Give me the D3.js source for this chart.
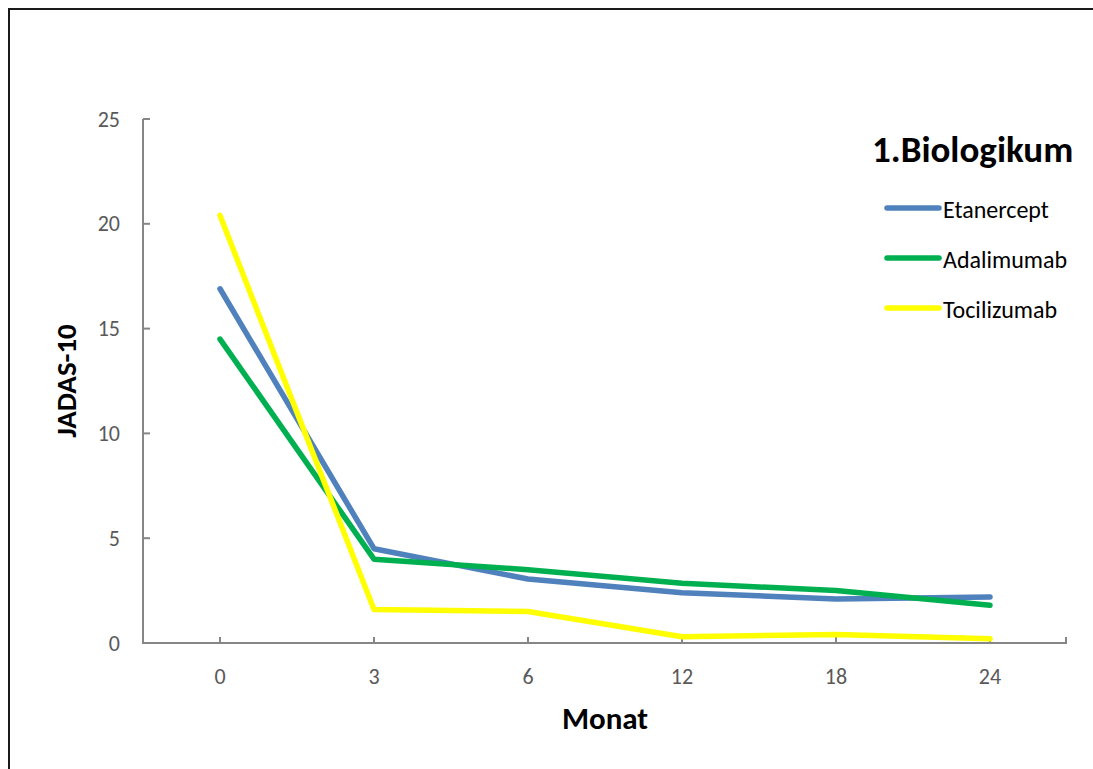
<!DOCTYPE html>
<html>
<head>
<meta charset="utf-8">
<script src="https://cdn.jsdelivr.net/npm/d3@7"></script>
<style>
  html, body { margin: 0; padding: 0; background: #fff; }
  svg { display: block; font-family: Carlito, Lato, "Open Sans", sans-serif; }
</style>
</head>
<body>
<svg id="chart" width="1093" height="769"></svg>
<script>
// JADAS-10 over months, by first biologic
const months = ["0", "3", "6", "12", "18", "24"];
const etanercept = [16.9, 4.5, 3.05, 2.4, 2.1, 2.2];
const adalimumab = [14.5, 4.0, 3.5, 2.85, 2.5, 1.8];
const tocilizumab = [20.4, 1.6, 1.5, 0.3, 0.4, 0.2];
const yTicks = [0, 5, 10, 15, 20, 25];
const seriesNames = ["Etanercept", "Adalimumab", "Tocilizumab"];
const seriesColors = ["#4F81BD", "#00B050", "#FFFF00"];
const seriesValues = [etanercept, adalimumab, tocilizumab];

const svg = d3.select("#chart");

// outer frame
svg.append("rect")
  .attr("x", 9).attr("y", 9)
  .attr("width", 1100).attr("height", 800)
  .attr("fill", "#fff")
  .attr("stroke", "#1a1a1a").attr("stroke-width", 2);

const x = d3.scaleBand().domain(months).range([143, 1067]).padding(0);
const xc = m => x(m) + x.bandwidth() / 2;
const y = d3.scaleLinear().domain([0, 25]).range([643, 119]);

const axisColor = "#868686";
const g = svg.append("g");

// y axis line + inward ticks
g.append("line")
  .attr("x1", 143).attr("x2", 143)
  .attr("y1", y(25)).attr("y2", y(0))
  .attr("stroke", axisColor).attr("stroke-width", 2);
g.selectAll(".ytick").data(yTicks).join("line")
  .attr("x1", 143).attr("x2", 150)
  .attr("y1", d => y(d)).attr("y2", d => y(d))
  .attr("stroke", axisColor).attr("stroke-width", 2);
g.selectAll(".ylab").data(yTicks).join("text")
  .attr("x", 120).attr("y", d => y(d))
  .attr("text-anchor", "end").attr("dominant-baseline", "central")
  .attr("font-size", 22).attr("fill", "#595959")
  .text(d => d);

// x axis line + ticks
g.append("line")
  .attr("x1", 142).attr("x2", 1067)
  .attr("y1", y(0)).attr("y2", y(0))
  .attr("stroke", axisColor).attr("stroke-width", 2);
const xTickPos = months.map(xc).concat([x.range()[1] - 1]);
g.selectAll(".xtick").data(xTickPos).join("line")
  .attr("x1", d => d).attr("x2", d => d)
  .attr("y1", y(0)).attr("y2", y(0) - 6)
  .attr("stroke", axisColor).attr("stroke-width", 2);
g.selectAll(".xlab").data(months).join("text")
  .attr("x", xc).attr("y", 676)
  .attr("text-anchor", "middle").attr("dominant-baseline", "central")
  .attr("font-size", 22).attr("fill", "#595959")
  .text(d => d);

// axis titles
svg.append("text")
  .attr("x", 605).attr("y", 718)
  .attr("text-anchor", "middle").attr("dominant-baseline", "central")
  .attr("font-size", 31).attr("font-weight", "bold").attr("fill", "#000")
  .text("Monat");
svg.append("text")
  .attr("transform", "translate(66,381) rotate(-90)")
  .attr("text-anchor", "middle").attr("dominant-baseline", "central")
  .attr("font-size", 29).attr("font-weight", "bold").attr("fill", "#000")
  .text("JADAS-10");

// series lines
const line = d3.line().x((d, i) => xc(months[i])).y(d => y(d));
svg.append("g").selectAll("path").data(seriesValues).join("path")
  .attr("d", line)
  .attr("fill", "none")
  .attr("stroke", (d, i) => seriesColors[i])
  .attr("stroke-width", 5.5)
  .attr("stroke-linecap", "round")
  .attr("stroke-linejoin", "round");

// legend
svg.append("text")
  .attr("x", 872).attr("y", 162)
  .attr("font-size", 37).attr("font-weight", "bold").attr("fill", "#000")
  .text("1.Biologikum");
const leg = svg.append("g").selectAll("g").data(seriesNames).join("g")
  .attr("transform", (d, i) => `translate(0,${208 + i * 50})`);
leg.append("line")
  .attr("x1", 887).attr("x2", 939)
  .attr("y1", 0).attr("y2", 0)
  .attr("stroke", (d, i) => seriesColors[i])
  .attr("stroke-width", 5.5).attr("stroke-linecap", "round");
leg.append("text")
  .attr("x", 943).attr("y", 1)
  .attr("dominant-baseline", "central")
  .attr("font-size", 24).attr("fill", "#000")
  .text(d => d);
</script>
</body>
</html>
